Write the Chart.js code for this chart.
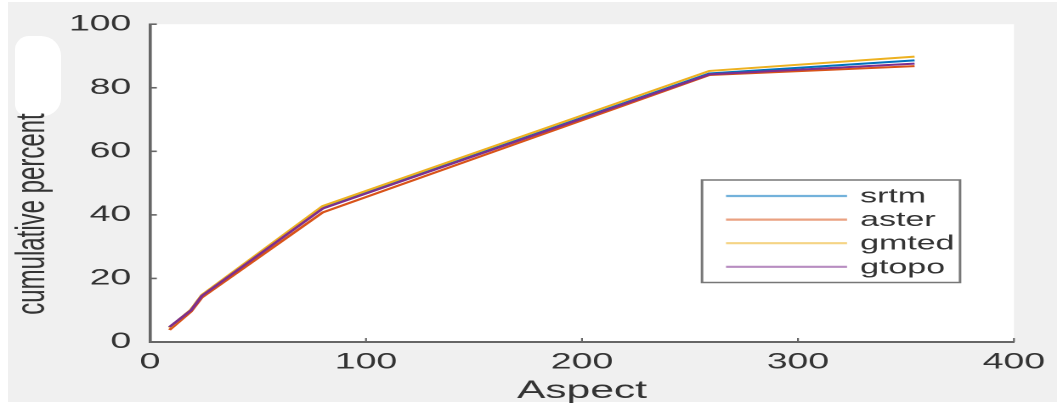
<!DOCTYPE html>
<html>
<head>
<meta charset="utf-8">
<script src="https://cdn.jsdelivr.net/npm/chart.js@4/dist/chart.umd.min.js"></script>
<style>
  html, body { margin: 0; padding: 0; background: #fff; overflow: hidden; }
  #bg { position: absolute; left: 8px; top: 2px; width: 1049px; height: 400px; background: #f0f0f0; }
  #blot { position: absolute; left: 15px; top: 36px; width: 46px; height: 80px; background: #fff; border-radius: 14px 20px 18px 12px; }
  /* the source picture is stretched sideways, so the canvas is drawn narrow and widened */
  #wrap { position: absolute; left: 0; top: 0; width: 622px; height: 408px; transform: scaleX(1.6994); transform-origin: 0 0; }
</style>
</head>
<body>
<div id="bg"></div>
<div id="blot"></div>
<div id="wrap"><canvas id="chart" width="622" height="408" style="width:622px;height:408px"></canvas></div>
<script>
// values
const aspect = [9, 19, 24, 80, 259, 354];
const srtm  = [4.6, 10.0, 14.6, 42.2, 84.5, 88.6];
const aster = [3.8, 9.6, 14.0, 40.8, 84.0, 86.8];
const gmted = [4.5, 10.2, 14.8, 42.8, 85.3, 89.8];
const gtopo = [4.7, 10.0, 14.5, 42.0, 84.2, 87.6];

const names  = ['srtm', 'aster', 'gmted', 'gtopo'];
const series = [srtm, aster, gmted, gtopo];
const colors = ['#0072BD', '#D95319', '#EDB120', '#7E2F8E'];

const xTicks = [0, 100, 200, 300, 400];
const yTicks = [0, 20, 40, 60, 80, 100];
const xTitle = 'Aspect';
const yTitle = 'cumulative percent';

const SX = 1057 / 622;
const axisColor = '#666';
const textColor = '#333';

// white plot area, inward ticks, rotated y title and the boxed legend
const matlabLook = {
  id: 'matlabLook',
  beforeDraw(chart) {
    const { ctx, chartArea: a } = chart;
    ctx.save();
    ctx.fillStyle = '#fff';
    ctx.fillRect(a.left, a.top, a.right - a.left, a.bottom - a.top);
    ctx.restore();
  },
  afterDraw(chart) {
    const { ctx, chartArea: a, scales: { x, y } } = chart;
    ctx.save();
    ctx.strokeStyle = axisColor;
    ctx.lineWidth = 1.6;
    yTicks.forEach(v => {
      if (v === 0) return;
      const py = y.getPixelForValue(v);
      ctx.beginPath(); ctx.moveTo(a.left, py); ctx.lineTo(a.left + 4, py); ctx.stroke();
    });
    ctx.lineWidth = 1.1;
    xTicks.forEach(v => {
      if (v === 0) return;
      const px = x.getPixelForValue(v);
      ctx.beginPath(); ctx.moveTo(px, a.bottom); ctx.lineTo(px, a.bottom - 4); ctx.stroke();
    });

    // y title
    ctx.save();
    ctx.translate(33 / SX, 214);
    ctx.rotate(-Math.PI / 2);
    ctx.font = '24px "Liberation Sans", Arial, sans-serif';
    ctx.fillStyle = textColor;
    ctx.textAlign = 'center';
    ctx.textBaseline = 'middle';
    ctx.fillText(yTitle, 0, 0);
    ctx.restore();

    // legend
    const bl = 702 / SX, br = 960 / SX, bt = 180, bb = 282.5;
    ctx.fillStyle = '#fff';
    ctx.fillRect(bl, bt, br - bl, bb - bt);
    ctx.strokeStyle = '#777';
    ctx.lineWidth = 1.5;
    ctx.strokeRect(bl, bt, br - bl, bb - bt);
    ctx.font = '20px "Liberation Sans", Arial, sans-serif';
    ctx.textAlign = 'left';
    ctx.textBaseline = 'middle';
    chart.data.datasets.forEach((ds, i) => {
      const ry = 196 + i * 23.6;
      ctx.globalAlpha = 0.55;
      ctx.strokeStyle = ds.borderColor;
      ctx.lineWidth = 2.2;
      ctx.beginPath(); ctx.moveTo(726 / SX, ry); ctx.lineTo(847 / SX, ry); ctx.stroke();
      ctx.globalAlpha = 1;
      ctx.fillStyle = textColor;
      ctx.fillText(ds.label, 860 / SX, ry + 1);
    });
    ctx.restore();
  }
};

const tickFont = { family: '"Liberation Sans", Arial, sans-serif', size: 22 };

new Chart(document.getElementById('chart'), {
  type: 'line',
  data: {
    datasets: names.map((n, i) => ({
      label: n,
      data: aspect.map((a, j) => ({ x: a, y: series[i][j] })),
      borderColor: colors[i],
      borderWidth: 2,
      pointRadius: 0,
      tension: 0,
      fill: false,
      order: 3 - i
    }))
  },
  options: {
    responsive: false,
    animation: false,
    devicePixelRatio: 2,
    layout: { padding: { top: 18, right: 20.8, left: 0, bottom: 0 } },
    plugins: { legend: { display: false }, tooltip: { enabled: false } },
    scales: {
      x: {
        type: 'linear', min: 0, max: 400,
        afterBuildTicks: s => { s.ticks = xTicks.map(v => ({ value: v })); },
        afterFit: s => { s.height = 66; },
        grid: { display: true, drawOnChartArea: false, drawTicks: false },
        border: { display: true, color: axisColor, width: 2 },
        ticks: { padding: 7, font: tickFont, color: textColor, maxRotation: 0 },
        title: { display: true, text: xTitle, color: textColor,
                 font: { family: '"Liberation Sans", Arial, sans-serif', size: 25 },
                 padding: { top: 0, bottom: 2 } }
      },
      y: {
        type: 'linear', min: 0, max: 100,
        afterBuildTicks: s => { s.ticks = yTicks.map(v => ({ value: v })); },
        afterFit: s => { s.width = 150 / SX; },
        grid: { display: true, drawOnChartArea: false, drawTicks: false },
        border: { display: true, color: axisColor, width: 1.8 },
        ticks: { padding: 11, font: tickFont, color: textColor }
      }
    }
  },
  plugins: [matlabLook]
});
</script>
</body>
</html>
